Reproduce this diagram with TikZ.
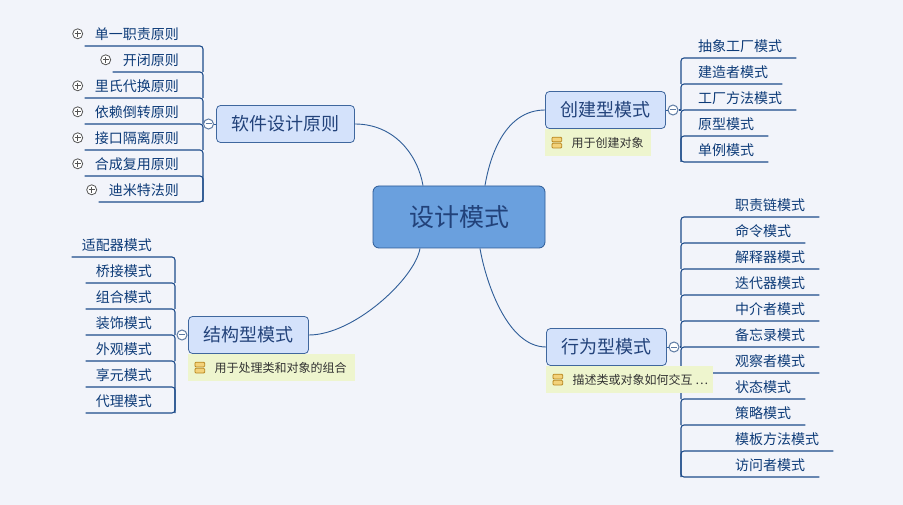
\documentclass[tikz,border=0pt]{standalone}
\usepackage{fontspec}
\setmainfont{Noto Sans CJK SC}
\usepackage{xcolor}
\usepackage{tikz}
\usetikzlibrary{
    positioning,
    calc
}
\definecolor{bgcolor}{HTML}{F2F4FA}
\definecolor{rootfill}{HTML}{6AA0DE}
\definecolor{rootline}{HTML}{2C5A96}
\definecolor{branchfill}{HTML}{D4E2FB}
\definecolor{branchline}{HTML}{3F679E}
\definecolor{branchtext}{HTML}{22427A}
\definecolor{leaftext}{HTML}{0D3B78}
\definecolor{treeline}{HTML}{1E4C8A}
\definecolor{linkline}{HTML}{2F5D98}
\definecolor{foldline}{HTML}{5E7BA3}
\definecolor{expandline}{HTML}{555555}
\definecolor{notefill}{HTML}{EEF5CE}
\definecolor{notetextc}{HTML}{333333}
\definecolor{iconfill}{HTML}{F3D27A}
\definecolor{icondark}{HTML}{B8861E}

\begin{document}
\begin{tikzpicture}[
    x=1pt, y=-1pt,
    root/.style={rectangle, rounded corners=6pt, draw=rootline, fill=rootfill, line width=0.8pt, minimum width=172pt, minimum height=62pt, font=\fontsize{25}{28}\selectfont, text=branchtext},
    branch/.style={rectangle, rounded corners=4pt, draw=branchline, fill=branchfill, line width=0.8pt, minimum height=37pt, inner xsep=15pt, font=\fontsize{18}{20}\selectfont, text=branchtext},
    leaf/.style={inner xsep=#1, inner ysep=0pt, minimum height=24pt, font=\fontsize{14}{16}\selectfont, text=leaftext},
    leaf/.default=14pt,
    tree/.style={draw=treeline, line width=1.1pt, rounded corners=3pt},
    link/.style={draw=linkline, line width=0.9pt},
    fold/.style={circle, draw=foldline, fill=white, line width=1pt, inner sep=0pt, minimum size=10pt,
        path picture={\draw[foldline, line width=1pt] ([xshift=-3pt]path picture bounding box.center) -- ([xshift=3pt]path picture bounding box.center);}},
    expand/.style={circle, draw=expandline, fill=white, line width=0.8pt, inner sep=0pt, minimum size=10pt,
        path picture={\draw[expandline, line width=0.9pt] ([xshift=-3pt]path picture bounding box.center) -- ([xshift=3pt]path picture bounding box.center)
            ([yshift=-3pt]path picture bounding box.center) -- ([yshift=3pt]path picture bounding box.center);}},
    notebox/.style={rectangle, fill=notefill, minimum height=27pt, inner sep=0pt},
    notetext/.style={inner sep=0pt, font=\fontsize{12}{14}\selectfont, text=notetextc},
    noteicon/.style={minimum width=11pt, minimum height=12pt, inner sep=0pt,
        path picture={
            \draw[icondark, fill=iconfill, line width=0.8pt, rounded corners=1pt] ([xshift=0.6pt,yshift=-0.6pt]path picture bounding box.north west) rectangle ([xshift=-0.6pt,yshift=0.7pt]path picture bounding box.east);
            \draw[icondark, fill=iconfill, line width=0.8pt, rounded corners=1pt] ([xshift=0.6pt,yshift=-0.7pt]path picture bounding box.west) rectangle ([xshift=-0.6pt,yshift=0.6pt]path picture bounding box.south east);}},
]
    % Canvas
    \fill[bgcolor] (0, 0) rectangle (903, 505);

    % Root
    \node[root] (r) at (459, 217) {设计模式};

    % Branches
    \node[branch] (p) at (285.5, 124) {软件设计原则};
    \node[branch] (c) at (605.5, 110) {创建型模式};
    \node[branch] (s) at (248.5, 335) {结构型模式};
    \node[branch] (b) at (606.5, 347) {行为型模式};

    % Links root -> branches
    \draw[link] (p.east) .. controls +(40, 0) and +(-5, -30) .. ([xshift=-36pt]r.north);
    \draw[link] (c.west) .. controls +(-40, 0) and +(5, -30) .. ([xshift=26pt]r.north);
    \draw[link] (s.east) .. controls +(45, 0) and +(-5, 30) .. ([xshift=-39pt]r.south);
    \draw[link] (b.west) .. controls +(-40, 0) and +(5, 30) .. ([xshift=21pt]r.south);

    % Software design principles
    \coordinate (ps) at (203, 124);
    \node[leaf=10pt, anchor=south east] (p1) at (189, 46) {单一职责原则};
    \node[leaf=10pt, anchor=south east] (p2) at (189, 72) {开闭原则};
    \node[leaf=10pt, anchor=south east] (p3) at (189, 98) {里氏代换原则};
    \node[leaf=10pt, anchor=south east] (p4) at (189, 124) {依赖倒转原则};
    \node[leaf=10pt, anchor=south east] (p5) at (189, 150) {接口隔离原则};
    \node[leaf=10pt, anchor=south east] (p6) at (189, 176) {合成复用原则};
    \node[leaf=10pt, anchor=south east] (p7) at (189, 202) {迪米特法则};
    \draw[tree] (p1.south west) -- (p1.south -| ps) -- (p2.south -| ps);
    \draw[tree] (p2.south west) -- (p2.south -| ps) -- (p3.south -| ps);
    \draw[tree] (p3.south west) -- (p3.south -| ps) -- (p4.south -| ps);
    \draw[tree] (p4.south west) -- (p4.south -| ps) -- (p5.south -| ps);
    \draw[tree] (p5.south west) -- (p5.south -| ps) -- (p6.south -| ps);
    \draw[tree] (p6.south west) -- (p6.south -| ps) -- (p7.south -| ps);
    \draw[tree] (p7.south west) -- (p7.south -| ps) -- (p6.south -| ps);
    \node[expand, left=1.5pt of p1.west] (pe1) {};
    \node[expand, left=1.5pt of p2.west] (pe2) {};
    \node[expand, left=1.5pt of p3.west] (pe3) {};
    \node[expand, left=1.5pt of p4.west] (pe4) {};
    \node[expand, left=1.5pt of p5.west] (pe5) {};
    \node[expand, left=1.5pt of p6.west] (pe6) {};
    \node[expand, left=1.5pt of p7.west] (pe7) {};
    \node[fold] (pf) at (208.5, 124) {};
    \draw[link] (pf) -- (p.west);

    % Creational patterns
    \coordinate (cs) at (681, 110);
    \node[leaf, anchor=south west] (c1) at (684, 58) {抽象工厂模式};
    \node[leaf, anchor=south west] (c2) at (684, 84) {建造者模式};
    \node[leaf, anchor=south west] (c3) at (684, 110) {工厂方法模式};
    \node[leaf, anchor=south west] (c4) at (684, 136) {原型模式};
    \node[leaf, anchor=south west] (c5) at (684, 162) {单例模式};
    \draw[tree] (c1.south east) -- (c1.south -| cs) -- (c2.south -| cs);
    \draw[tree] (c2.south east) -- (c2.south -| cs) -- (c3.south -| cs);
    \draw[tree] (c3.south east) -- (c3.south -| cs) -- (c4.south -| cs);
    \draw[tree] (c4.south east) -- (c4.south -| cs) -- (c5.south -| cs);
    \draw[tree] (c5.south east) -- (c5.south -| cs) -- (c4.south -| cs);
    \node[fold] (cf) at (673, 110) {};
    \draw[link] (c.east) -- (cf);
    \draw[tree] (cf) -- (cs);

    % Structural patterns
    \coordinate (ss) at (175, 335);
    \node[leaf=10pt, anchor=south east] (s1) at (162, 257) {适配器模式};
    \node[leaf=10pt, anchor=south east] (s2) at (162, 283) {桥接模式};
    \node[leaf=10pt, anchor=south east] (s3) at (162, 309) {组合模式};
    \node[leaf=10pt, anchor=south east] (s4) at (162, 335) {装饰模式};
    \node[leaf=10pt, anchor=south east] (s5) at (162, 361) {外观模式};
    \node[leaf=10pt, anchor=south east] (s6) at (162, 387) {享元模式};
    \node[leaf=10pt, anchor=south east] (s7) at (162, 413) {代理模式};
    \draw[tree] (s1.south west) -- (s1.south -| ss) -- (s2.south -| ss);
    \draw[tree] (s2.south west) -- (s2.south -| ss) -- (s3.south -| ss);
    \draw[tree] (s3.south west) -- (s3.south -| ss) -- (s4.south -| ss);
    \draw[tree] (s4.south west) -- (s4.south -| ss) -- (s5.south -| ss);
    \draw[tree] (s5.south west) -- (s5.south -| ss) -- (s6.south -| ss);
    \draw[tree] (s6.south west) -- (s6.south -| ss) -- (s7.south -| ss);
    \draw[tree] (s7.south west) -- (s7.south -| ss) -- (s6.south -| ss);
    \node[fold] (sf) at (182, 335) {};
    \draw[link] (sf) -- (s.west);

    % Behavioral patterns
    \coordinate (bs) at (681, 347);
    \node[leaf, anchor=south west] (b1) at (721, 217) {职责链模式};
    \node[leaf, anchor=south west] (b2) at (721, 243) {命令模式};
    \node[leaf, anchor=south west] (b3) at (721, 269) {解释器模式};
    \node[leaf, anchor=south west] (b4) at (721, 295) {迭代器模式};
    \node[leaf, anchor=south west] (b5) at (721, 321) {中介者模式};
    \node[leaf, anchor=south west] (b6) at (721, 347) {备忘录模式};
    \node[leaf, anchor=south west] (b7) at (721, 373) {观察者模式};
    \node[leaf, anchor=south west] (b8) at (721, 399) {状态模式};
    \node[leaf, anchor=south west] (b9) at (721, 425) {策略模式};
    \node[leaf, anchor=south west] (b10) at (721, 451) {模板方法模式};
    \node[leaf, anchor=south west] (b11) at (721, 477) {访问者模式};
    \draw[tree] (b1.south east) -- (b1.south -| bs) -- (b2.south -| bs);
    \draw[tree] (b2.south east) -- (b2.south -| bs) -- (b3.south -| bs);
    \draw[tree] (b3.south east) -- (b3.south -| bs) -- (b4.south -| bs);
    \draw[tree] (b4.south east) -- (b4.south -| bs) -- (b5.south -| bs);
    \draw[tree] (b5.south east) -- (b5.south -| bs) -- (b6.south -| bs);
    \draw[tree] (b6.south east) -- (b6.south -| bs) -- (b7.south -| bs);
    \draw[tree] (b7.south east) -- (b7.south -| bs) -- (b8.south -| bs);
    \draw[tree] (b8.south east) -- (b8.south -| bs) -- (b9.south -| bs);
    \draw[tree] (b9.south east) -- (b9.south -| bs) -- (b10.south -| bs);
    \draw[tree] (b10.south east) -- (b10.south -| bs) -- (b11.south -| bs);
    \draw[tree] (b11.south east) -- (b11.south -| bs) -- (b10.south -| bs);
    \node[fold] (bf) at (674, 347) {};
    \draw[link] (b.east) -- (bf);
    \draw[tree] (bf) -- (bs);

    % Notes
    \node[notebox, minimum width=106pt, anchor=north west] (cn) at (c.south west) {};
    \node[noteicon, right=6pt of cn.west] (cni) {};
    \node[notetext, right=9pt of cni] (cnt) {用于创建对象};

    \node[notebox, minimum width=167pt, anchor=north west] (sn) at (s.south west) {};
    \node[noteicon, right=6pt of sn.west] (sni) {};
    \node[notetext, right=9pt of sni] (snt) {用于处理类和对象的组合};

    \node[notebox, minimum width=167pt, anchor=north west] (bn) at (b.south west) {};
    \node[noteicon, right=6pt of bn.west] (bni) {};
    \node[notetext, right=9pt of bni] (bnt) {描述类或对象如何交互 …};

\end{tikzpicture}
\end{document}
